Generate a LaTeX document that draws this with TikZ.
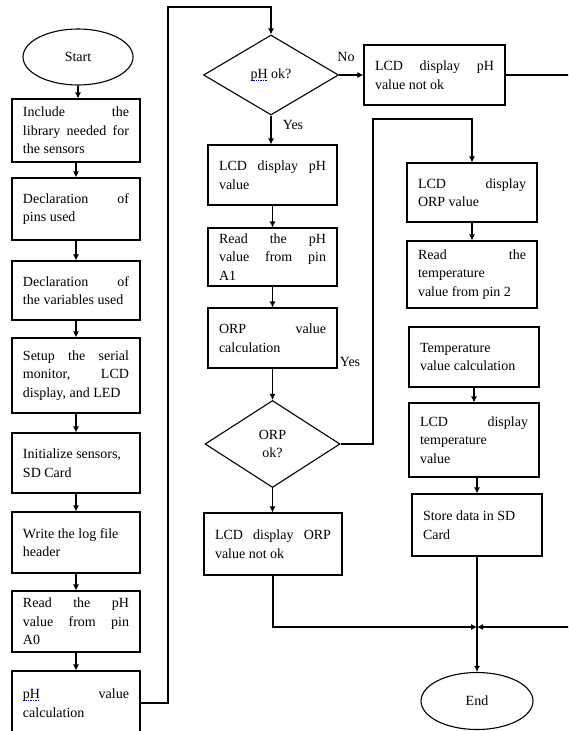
\documentclass[tikz,border=0pt]{standalone}
\usepackage{fontspec}
\setmainfont{Liberation Serif}
\usetikzlibrary{shapes.geometric,arrows.meta}
\newsavebox\spellbox
\newcommand\spellmark[1]{\sbox\spellbox{#1}\leavevmode\rlap{\raisebox{-2.8pt}{\textcolor{blue!75!black}{\hbox to \wd\spellbox{\xleaders\hbox{\rule{1.3pt}{0.9pt}\hspace{0.9pt}}\hfill}}}}\usebox\spellbox}
\begin{document}
\begin{tikzpicture}[x=1pt,y=-1pt,line width=1.1pt,
  font=\fontsize{14}{18.5}\selectfont,
  box/.style={draw,rectangle,align=justify,inner xsep=11pt,inner ysep=0pt},
  oval/.style={draw,ellipse,inner sep=0pt},
  decision/.style={draw,diamond,inner sep=0pt,align=center},
  arr/.style={-{Latex[length=6pt,width=6pt]}},
  lbl/.style={inner sep=0pt}]
\useasboundingbox (0,0) rectangle (568,731);
\clip (0,0) rectangle (568,731);
\fill[white] (0,0) rectangle (568,731);
% left column
\node[oval,minimum width=110pt,minimum height=56pt] (start) at (78,57) {Start};
\node[box,text width=106pt,minimum height=63pt] (b1) at (76,130.5) {Include the\linebreak library needed for\linebreak the sensors};
\node[box,text width=106pt,minimum height=62pt] (b2) at (76,209) {Declaration of\linebreak pins used};
\node[box,text width=106pt,minimum height=59pt] (b3) at (76,290.5) {Declaration of\linebreak the variables used};
\node[box,text width=106pt,minimum height=75pt] (b4) at (76,375.5) {Setup the serial\linebreak monitor, LCD\linebreak display, and LED};
\node[box,text width=106pt,minimum height=60pt] (b5) at (76,463) {Initialize sensors,\\ SD Card};
\node[box,text width=106pt,minimum height=61pt] (b6) at (76,542.5) {Write the log file\\ header};
\node[box,text width=106pt,minimum height=61pt] (b7) at (76,621.5) {Read the pH\linebreak value from pin\linebreak A0};
\node[box,text width=106pt,minimum height=64pt] (b8) at (76,703) {\spellmark{pH} value\linebreak calculation};
% middle column
\node[decision,minimum width=135pt,minimum height=80pt] (d1) at (271,75) {\raisebox{-4pt}{\spellmark{pH} ok?}};
\node[box,text width=119pt,minimum height=60pt] (nph) at (434.5,75) {LCD display pH\linebreak value not ok};
\node[box,text width=107pt,minimum height=60pt] (m1) at (272.5,175) {LCD display pH\linebreak value};
\node[box,text width=107pt,minimum height=58pt] (m2) at (272.5,257) {Read the pH\linebreak value from pin\linebreak A1};
\node[box,text width=107pt,minimum height=60pt] (m3) at (272.5,338) {ORP value\linebreak calculation};
\node[decision,minimum width=135pt,minimum height=87pt] (d2) at (272.5,444) {ORP\\ ok?};
\node[box,text width=116pt,minimum height=62pt] (m4) at (273,544) {LCD display ORP\linebreak value not ok};
% right column
\node[box,text width=108pt,minimum height=59pt] (r1) at (472,192.5) {LCD display\linebreak ORP value};
\node[box,text width=108pt,minimum height=67pt] (r2) at (472,274.5) {Read the\linebreak temperature\\ value from pin 2};
\node[box,text width=108pt,minimum height=60pt] (r3) at (474,357) {Temperature\\ value calculation};
\node[box,text width=108pt,minimum height=74pt] (r4) at (474,440) {LCD display\linebreak temperature\\ value};
\node[box,text width=108pt,minimum height=62pt] (r5) at (477,525) {Store data in SD\\ Card};
\node[oval,minimum width=112pt,minimum height=57pt] (end) at (477,701) {End};
\coordinate (j) at (477,627);
\coordinate (c1) at (168,7);
\coordinate (c2) at (373,119);
% labels
\node[lbl] (lno) at (346,57) {No};
\node[lbl] (lyes1) at (293,125) {Yes};
\node[lbl] (lyes2) at (350,362) {Yes};
% connectors left
\draw[arr] (start.south) -- (start.south |- b1.north);
\foreach \a/\b in {b1/b2,b2/b3,b3/b4,b4/b5,b5/b6,b6/b7,b7/b8}
  \draw[arr] (\a.south) -- (\b.north);
\draw[arr] (b8.east) -| (c1) -| (d1.north);
% middle
\draw[arr] (d1.east) -- (nph.west);
\draw[arr] (d1.south) -- (d1.south |- m1.north);
\draw[arr] (m1.south) -- (m2.north);
\draw[arr] (m2.south) -- (m3.north);
\draw[arr] (m3.south) -- (d2.north);
\draw[arr] (d2.south) -- (d2.south |- m4.north);
\draw[arr] (d2.east) -| (c2) -| (r1.north);
% right
\draw[arr] (r1.south) -- (r2.north);
\draw[arr] (r3.south) -- (r4.north);
\draw[arr] (r4.south) -- (r4.south -| r5.north) -- (r5.north);
\draw (r5.south) -- (j);
\draw[arr] (j) -- (end.north);
\draw[arr] (m4.south) |- (j);
\draw[arr] (nph.east) -- ++(100,0) |- (j);
\end{tikzpicture}
\end{document}
